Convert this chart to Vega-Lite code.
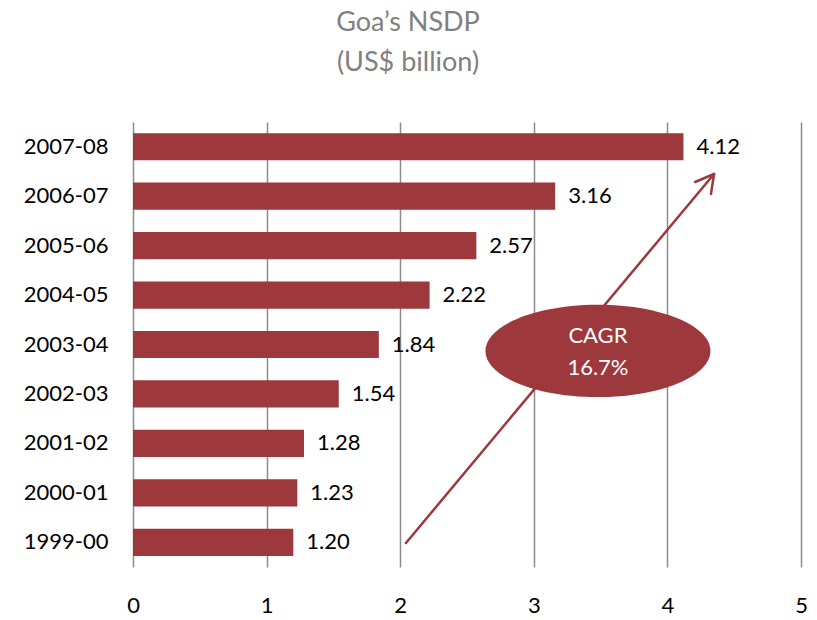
{
  "$schema": "https://vega.github.io/schema/vega-lite/v6.json",
  "width": 668,
  "height": 445,
  "autosize": {"type": "none"},
  "padding": {"left": 133, "top": 122, "right": 16, "bottom": 53},
  "background": "white",
  "config": {"view": {"stroke": null}, "font": "Lato"},
  "title": {
    "text": ["Goa’s NSDP", "(US$ billion)"],
    "fontSize": 27,
    "font": "Lato",
    "fontWeight": "normal",
    "color": "#808080",
    "lineHeight": 40,
    "anchor": "middle",
    "dx": -59,
    "offset": 45
  },
  "layer": [
    {
      "data": {
        "values": [
          {"year": "1999-00", "v": 1.20},
          {"year": "2000-01", "v": 1.23},
          {"year": "2001-02", "v": 1.28},
          {"year": "2002-03", "v": 1.54},
          {"year": "2003-04", "v": 1.84},
          {"year": "2004-05", "v": 2.22},
          {"year": "2005-06", "v": 2.57},
          {"year": "2006-07", "v": 3.16},
          {"year": "2007-08", "v": 4.12}
        ]
      },
      "encoding": {
        "y": {
          "field": "year",
          "type": "nominal",
          "sort": "descending",
          "scale": {"paddingInner": 0.45, "paddingOuter": 0.225},
          "axis": {
            "title": null,
            "ticks": false,
            "domain": false,
            "labelFontSize": 22,
            "labelColor": "#000000",
            "labelPadding": 25,
            "labelFont": "Lato"
          }
        },
        "x": {
          "field": "v",
          "type": "quantitative",
          "scale": {"domain": [0, 5], "nice": false},
          "axis": {
            "title": null,
            "values": [0, 1, 2, 3, 4, 5],
            "format": "d",
            "labelFlush": false,
            "grid": true,
            "gridColor": "#8c8c8c",
            "gridWidth": 1.5,
            "ticks": false,
            "domain": false,
            "labelFontSize": 22,
            "labelColor": "#000000",
            "labelPadding": 28,
            "labelFont": "Lato"
          }
        }
      },
      "layer": [
        {"mark": {"type": "bar", "color": "#9D383D"}},
        {
          "mark": {"type": "text", "align": "left", "baseline": "middle", "dx": 13, "fontSize": 22, "color": "#000000", "font": "Lato"},
          "encoding": {"text": {"field": "v", "type": "quantitative", "format": ".2f"}}
        }
      ]
    },
    {
      "data": {
        "values": [
          {"v": 2.043, "r": 0.485, "v2": 4.349, "r2": 7.948},
          {"v": 4.207, "r": 7.787, "v2": 4.349, "r2": 7.948},
          {"v": 4.326, "r": 7.544, "v2": 4.349, "r2": 7.948}
        ]
      },
      "mark": {"type": "rule", "color": "#9D383D", "strokeWidth": 2.5, "strokeCap": "round"},
      "encoding": {
        "x": {"field": "v", "type": "quantitative", "scale": {"domain": [0, 5], "nice": false}},
        "y": {"field": "r", "type": "quantitative", "scale": {"domain": [0, 9], "nice": false}, "axis": null},
        "x2": {"field": "v2"},
        "y2": {"field": "r2"}
      }
    },
    {
      "data": {"values": [{"v": 3.48, "r": 4.369}]},
      "mark": {
        "type": "point",
        "shape": "M -1 0 A 1 0.41 0 1 1 1 0 A 1 0.41 0 1 1 -1 0 Z",
        "size": 50625,
        "filled": true,
        "color": "#9D383D",
        "opacity": 1,
        "strokeWidth": 0
      },
      "encoding": {
        "x": {"field": "v", "type": "quantitative", "scale": {"domain": [0, 5], "nice": false}},
        "y": {"field": "r", "type": "quantitative", "scale": {"domain": [0, 9], "nice": false}, "axis": null}
      }
    },
    {
      "data": {
        "values": [
          {"v": 3.48, "r": 4.672, "t": "CAGR"},
          {"v": 3.48, "r": 4.024, "t": "16.7%"}
        ]
      },
      "mark": {"type": "text", "align": "center", "baseline": "middle", "fontSize": 22, "color": "#ffffff", "font": "Lato"},
      "encoding": {
        "x": {"field": "v", "type": "quantitative", "scale": {"domain": [0, 5], "nice": false}},
        "y": {"field": "r", "type": "quantitative", "scale": {"domain": [0, 9], "nice": false}, "axis": null},
        "text": {"field": "t", "type": "nominal"}
      }
    }
  ],
  "resolve": {"scale": {"y": "independent"}}
}
